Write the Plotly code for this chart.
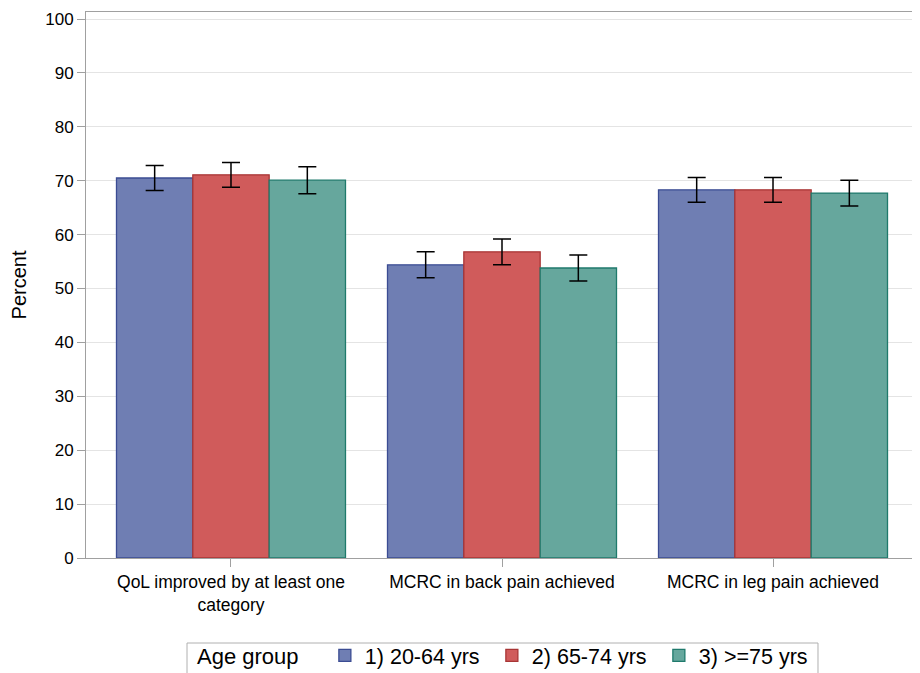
import plotly.graph_objects as go

categories = ["QoL improved by at least one<br>category", "MCRC in back pain achieved", "MCRC in leg pain achieved"]
groups = ["1) 20-64 yrs", "2) 65-74 yrs", "3) >=75 yrs"]
values_1 = [70.5, 54.4, 68.3]
values_2 = [71.1, 56.8, 68.3]
values_3 = [70.1, 53.8, 67.7]
err_1 = [2.3, 2.4, 2.3]
err_2 = [2.3, 2.4, 2.3]
err_3 = [2.5, 2.4, 2.4]

fills = ["#6F7EB3", "#D05B5B", "#66A79D"]
edges = ["#3B4C93", "#A83535", "#1F7A6C"]

fig = go.Figure()
for name, vals, errs, fc, ec in zip(groups, [values_1, values_2, values_3], [err_1, err_2, err_3], fills, edges):
    fig.add_trace(go.Bar(
        x=categories, y=vals, name=name,
        marker=dict(color=fc, line=dict(color=ec, width=1.3)),
        error_y=dict(type="data", array=errs, color="black", thickness=1.5, width=9),
    ))

# legend frame (drawn as a shape so the text can sit higher inside it)
fig.add_shape(type="rect", xref="paper", yref="paper",
              x0=0.1214, x1=0.8798, y0=-0.1557, y1=-0.26,
              line=dict(color="#B0B0B0", width=1), fillcolor="rgba(0,0,0,0)", layer="above")

# The page body has an 8px margin, so the figure is sized/offset to compensate.
fig.update_layout(
    width=912, height=665,
    margin=dict(l=78, r=2, t=4, b=115),
    barmode="group", bargap=0.155, bargroupgap=0,
    plot_bgcolor="white", paper_bgcolor="white",
    font=dict(family="Liberation Sans, Arial, sans-serif", color="black", size=17),
    xaxis=dict(
        range=[-0.535, 2.535], showline=True, linecolor="#A0A0A0", linewidth=1, mirror=True,
        ticks="outside", ticklen=8, tickcolor="#A0A0A0", tickfont=dict(size=17.5),
        automargin=False,
    ),
    yaxis=dict(
        title=dict(text="Percent", font=dict(size=20)),
        range=[0, 101.3], tickvals=list(range(0, 101, 10)),
        showgrid=True, gridcolor="#E4E4E4", gridwidth=1,
        showline=True, linecolor="#A0A0A0", linewidth=1, mirror=True,
        ticks="outside", ticklen=8, tickcolor="#A0A0A0", tickfont=dict(size=17), zeroline=False,
        automargin=False,
    ),
    legend=dict(
        orientation="h", x=0.131, xanchor="left", xref="paper",
        y=(665 - 627) / 665, yanchor="top", yref="container",
        title=dict(text="Age group   ", font=dict(size=22)),
        font=dict(size=21.5), borderwidth=0, bgcolor="rgba(0,0,0,0)",
        itemwidth=30, tracegroupgap=0,
        entrywidth=122, entrywidthmode="pixels",
    ),
)

fig.write_html("out.html")
